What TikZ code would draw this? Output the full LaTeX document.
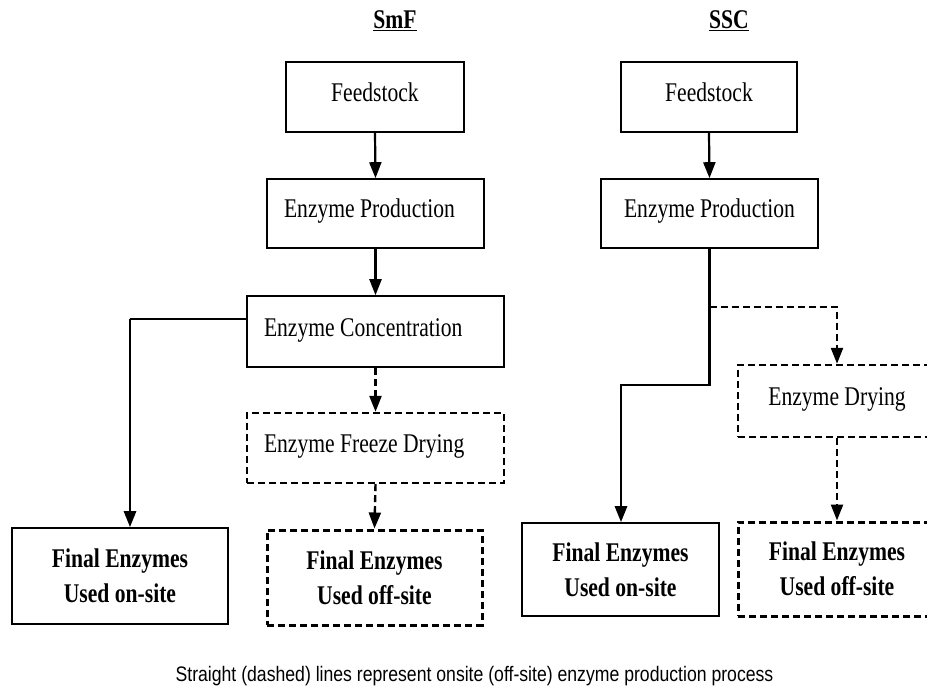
\documentclass[tikz,border=0pt]{standalone}
\usepackage{fontspec}
\setmainfont{Liberation Serif}[FakeStretch=0.8]
\newfontfamily\capfont{Liberation Sans}[FakeStretch=0.84]
\usetikzlibrary{arrows.meta}
\begin{document}
\begin{tikzpicture}[x=1pt,y=-1pt,
  box/.style={draw, line width=1.6pt, inner sep=0pt, font=\fontsize{27}{30}\selectfont},
  one/.style={text height=17pt, text depth=8pt},
  dbox/.style={box, line width=2.4pt, dash pattern=on 7pt off 4pt},
  finalbox/.style={box, align=center, font=\bfseries\fontsize{27}{35}\selectfont},
  dfinalbox/.style={finalbox, line width=3pt, dash pattern=on 7pt off 4pt},
  lbox/.style={align=flush left, inner xsep=17pt},
  arr/.style={line width=2.2pt, -{Triangle[length=16pt,width=12pt]}},
  darr/.style={arr, line width=2.4pt, dash pattern=on 7pt off 4pt},
  ttl/.style={anchor=base, font=\bfseries\fontsize{27}{30}\selectfont}
]
\clip (0,0) rectangle (927,690);
\fill[white] (0,0) rectangle (927,690);

% titles
\node[ttl] (t1) at (395,29) {\underline{SmF}};
\node[ttl] (t2) at (729,29) {\underline{SSC}};

% SmF column
\node[box, one, minimum width=178pt, minimum height=70pt] (fs1) at (375,97) {Feedstock};
\node[box, one, lbox, minimum width=217pt, text width=183pt, minimum height=69pt] (ep1) at (375.5,213.5) {Enzyme Production};
\node[box, one, lbox, minimum width=257pt, text width=223pt, minimum height=71pt] (ec1) at (375.5,331.5) {Enzyme Concentration};
\node[dbox, one, lbox, minimum width=257pt, text width=223pt, minimum height=70pt] (fd1) at (375.5,448) {Enzyme Freeze Drying};
\node[dfinalbox, minimum width=215pt, minimum height=95pt] (off1) at (374.5,577.5) {Final Enzymes\\Used off-site};
\node[finalbox, minimum width=216pt, minimum height=96pt] (on1) at (120,576) {Final Enzymes\\Used on-site};

% SSC column
\node[box, one, minimum width=176pt, minimum height=70pt] (fs2) at (709,97) {Feedstock};
\node[box, one, minimum width=217pt, minimum height=69pt] (ep2) at (709.5,213.5) {Enzyme Production};
\node[dbox, one, minimum width=198pt, minimum height=72pt] (dry) at (837,401) {Enzyme Drying};
\node[finalbox, minimum width=197pt, minimum height=93pt] (on2) at (620.5,569.5) {Final Enzymes\\Used on-site};
\node[dfinalbox, minimum width=198pt, minimum height=94pt] (off2) at (837,569) {Final Enzymes\\Used off-site};

% SmF connectors
\draw[arr] (fs1.south) -- (ep1.south |- ep1.north);
\draw[arr] (ep1.south) -- (ec1.north);
\coordinate (b1) at (130,319);
\draw[line width=1.6pt] (b1 -| ec1.west) -- (b1);
\draw[arr, line width=2.8pt] (b1) -- (b1 |- on1.north);
\draw[darr] (ec1.south) -- (fd1.north);
\draw[darr] (fd1.south) -- (off1.north);

% SSC connectors
\draw[arr] (fs2.south) -- (ep2.north);
\coordinate (k1) at (709.5,385);
\coordinate (k2) at (621,385);
\draw[arr, line width=2.8pt] (ep2.south) -- (k1) -- (k2) -- (k2 |- on2.north);
\coordinate (br) at (709.5,307);
\draw[darr] (br) -- (br -| dry.north) -- (dry.north);
\draw[darr] (dry.south) -- (off2.north);

% caption
\node[anchor=base, font=\capfont\fontsize{21}{24}\selectfont] (cap) at (474.5,681) {Straight (dashed) lines represent onsite (off-site) enzyme production process};
\end{tikzpicture}
\end{document}
